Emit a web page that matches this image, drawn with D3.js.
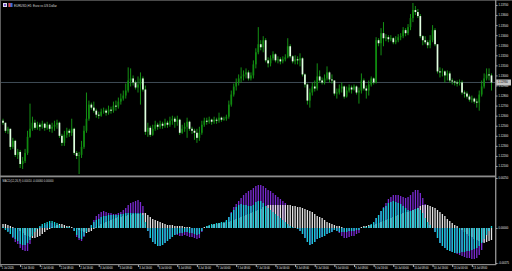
<!DOCTYPE html>
<html>
<head>
<meta charset="utf-8">
<script src="https://cdn.jsdelivr.net/npm/d3@7"></script>
<style>
  html, body { margin: 0; padding: 0; background: #000; overflow: hidden; }
  svg { display: block; }
</style>
</head>
<body>
<div id="chart"></div>
<script>
// EURUSD H1 candles, 200 bars
var opens = [
1.1255,1.1253,1.1245,1.1247,1.1229,1.1235,1.1221,1.1224,1.1212,1.1215,
1.1223,1.1239,1.1247,1.1253,1.1248,1.1251,1.1249,1.1252,1.1248,1.1251,
1.1247,1.1249,1.1251,1.1253,1.1240,1.1233,1.1241,1.1245,1.1243,1.1247,
1.1223,1.1220,1.1221,1.1229,1.1245,1.1257,1.1271,1.1268,1.1265,1.1261,
1.1260,1.1264,1.1265,1.1263,1.1266,1.1265,1.1270,1.1269,1.1274,1.1277,
1.1280,1.1285,1.1295,1.1297,1.1293,1.1288,1.1291,1.1297,1.1286,1.1244,
1.1248,1.1241,1.1247,1.1251,1.1249,1.1252,1.1250,1.1253,1.1251,1.1255,
1.1257,1.1254,1.1256,1.1243,1.1247,1.1249,1.1254,1.1247,1.1245,1.1243,
1.1238,1.1243,1.1251,1.1255,1.1254,1.1256,1.1254,1.1256,1.1255,1.1258,
1.1256,1.1257,1.1259,1.1271,1.1281,1.1289,1.1293,1.1297,1.1299,1.1301,
1.1303,1.1297,1.1300,1.1311,1.1323,1.1331,1.1328,1.1335,1.1315,1.1312,
1.1317,1.1321,1.1315,1.1316,1.1314,1.1316,1.1318,1.1329,1.1319,1.1314,
1.1316,1.1315,1.1317,1.1301,1.1291,1.1275,1.1283,1.1289,1.1287,1.1299,
1.1295,1.1293,1.1297,1.1303,1.1296,1.1295,1.1282,1.1283,1.1287,1.1289,
1.1279,1.1285,1.1288,1.1286,1.1289,1.1283,1.1285,1.1295,1.1287,1.1285,
1.1291,1.1297,1.1293,1.1335,1.1332,1.1342,1.1337,1.1338,1.1336,1.1337,
1.1333,1.1335,1.1338,1.1339,1.1345,1.1342,1.1348,1.1357,1.1365,1.1363,
1.1359,1.1339,1.1335,1.1333,1.1330,1.1335,1.1345,1.1331,1.1304,1.1303,
1.1304,1.1300,1.1302,1.1295,1.1294,1.1293,1.1292,1.1293,1.1283,1.1282,
1.1279,1.1276,1.1277,1.1274,1.1273,1.1281,1.1289,1.1297,1.1301,1.1300
];
var highs = [
1.1257,1.1253,1.1249,1.1247,1.1238,1.1236,1.1227,1.1226,1.1219,1.1227,
1.1245,1.1272,1.1259,1.1256,1.1254,1.1253,1.1255,1.1253,1.1254,1.1252,
1.1253,1.1255,1.1256,1.1254,1.1242,1.1245,1.1248,1.1247,1.1257,1.1248,
1.1225,1.1224,1.1235,1.1250,1.1283,1.1275,1.1273,1.1274,1.1267,1.1264,
1.1267,1.1268,1.1267,1.1270,1.1269,1.1274,1.1275,1.1278,1.1282,1.1285,
1.1292,1.1308,1.1307,1.1300,1.1295,1.1299,1.1303,1.1299,1.1290,1.1253,
1.1250,1.1251,1.1255,1.1253,1.1255,1.1254,1.1257,1.1255,1.1259,1.1260,
1.1259,1.1260,1.1257,1.1251,1.1253,1.1258,1.1255,1.1249,1.1247,1.1247,
1.1249,1.1255,1.1258,1.1258,1.1259,1.1257,1.1259,1.1258,1.1263,1.1259,
1.1259,1.1261,1.1275,1.1285,1.1292,1.1297,1.1301,1.1308,1.1305,1.1307,
1.1305,1.1303,1.1315,1.1327,1.1348,1.1335,1.1339,1.1337,1.1318,1.1320,
1.1324,1.1322,1.1319,1.1318,1.1319,1.1321,1.1337,1.1331,1.1320,1.1320,
1.1319,1.1322,1.1318,1.1302,1.1292,1.1287,1.1293,1.1295,1.1312,1.1305,
1.1298,1.1301,1.1309,1.1304,1.1301,1.1295,1.1287,1.1291,1.1293,1.1290,
1.1289,1.1291,1.1290,1.1291,1.1290,1.1288,1.1302,1.1297,1.1290,1.1295,
1.1299,1.1298,1.1338,1.1337,1.1347,1.1353,1.1341,1.1340,1.1340,1.1338,
1.1339,1.1341,1.1342,1.1348,1.1347,1.1351,1.1361,1.1372,1.1369,1.1366,
1.1361,1.1340,1.1339,1.1335,1.1340,1.1350,1.1347,1.1331,1.1308,1.1307,
1.1305,1.1305,1.1304,1.1297,1.1295,1.1295,1.1296,1.1295,1.1285,1.1284,
1.1281,1.1280,1.1278,1.1277,1.1285,1.1295,1.1302,1.1307,1.1307,1.1302
];
var lows = [
1.1251,1.1243,1.1242,1.1226,1.1227,1.1219,1.1217,1.1208,1.1207,1.1213,
1.1221,1.1238,1.1245,1.1246,1.1246,1.1245,1.1247,1.1245,1.1246,1.1244,
1.1243,1.1245,1.1247,1.1238,1.1230,1.1230,1.1238,1.1239,1.1240,1.1221,
1.1217,1.1202,1.1218,1.1227,1.1243,1.1255,1.1266,1.1263,1.1258,1.1257,
1.1259,1.1262,1.1260,1.1261,1.1262,1.1263,1.1265,1.1267,1.1271,1.1275,
1.1277,1.1283,1.1289,1.1290,1.1286,1.1283,1.1271,1.1284,1.1241,1.1239,
1.1239,1.1240,1.1245,1.1246,1.1247,1.1247,1.1248,1.1248,1.1249,1.1251,
1.1248,1.1250,1.1241,1.1242,1.1244,1.1238,1.1245,1.1242,1.1236,1.1233,
1.1235,1.1241,1.1249,1.1251,1.1252,1.1251,1.1252,1.1252,1.1253,1.1254,
1.1255,1.1255,1.1257,1.1269,1.1279,1.1285,1.1290,1.1293,1.1295,1.1297,
1.1295,1.1295,1.1297,1.1307,1.1321,1.1325,1.1323,1.1313,1.1308,1.1309,
1.1315,1.1313,1.1312,1.1311,1.1312,1.1314,1.1317,1.1317,1.1312,1.1311,
1.1311,1.1309,1.1299,1.1288,1.1271,1.1268,1.1280,1.1284,1.1285,1.1293,
1.1291,1.1291,1.1295,1.1293,1.1292,1.1280,1.1277,1.1281,1.1283,1.1277,
1.1278,1.1283,1.1282,1.1285,1.1281,1.1272,1.1282,1.1285,1.1277,1.1280,
1.1289,1.1291,1.1292,1.1329,1.1320,1.1329,1.1334,1.1333,1.1334,1.1331,
1.1331,1.1333,1.1335,1.1337,1.1339,1.1340,1.1345,1.1353,1.1360,1.1357,
1.1337,1.1330,1.1331,1.1327,1.1327,1.1333,1.1329,1.1302,1.1298,1.1299,
1.1293,1.1295,1.1293,1.1291,1.1290,1.1289,1.1290,1.1281,1.1278,1.1277,
1.1274,1.1273,1.1272,1.1268,1.1265,1.1279,1.1287,1.1295,1.1295,1.1285
];
var closes = [
1.1253,1.1245,1.1247,1.1229,1.1235,1.1221,1.1224,1.1212,1.1215,1.1223,
1.1239,1.1247,1.1253,1.1248,1.1251,1.1249,1.1252,1.1248,1.1251,1.1247,
1.1249,1.1251,1.1253,1.1240,1.1233,1.1241,1.1245,1.1243,1.1247,1.1223,
1.1220,1.1221,1.1229,1.1245,1.1257,1.1271,1.1268,1.1265,1.1261,1.1260,
1.1264,1.1265,1.1263,1.1266,1.1265,1.1270,1.1269,1.1274,1.1277,1.1280,
1.1285,1.1295,1.1297,1.1293,1.1288,1.1291,1.1297,1.1286,1.1244,1.1248,
1.1241,1.1247,1.1251,1.1249,1.1252,1.1250,1.1253,1.1251,1.1255,1.1257,
1.1254,1.1256,1.1243,1.1247,1.1249,1.1254,1.1247,1.1245,1.1243,1.1238,
1.1243,1.1251,1.1255,1.1254,1.1256,1.1254,1.1256,1.1255,1.1258,1.1256,
1.1257,1.1259,1.1271,1.1281,1.1289,1.1293,1.1297,1.1299,1.1301,1.1303,
1.1297,1.1300,1.1311,1.1323,1.1331,1.1328,1.1335,1.1315,1.1312,1.1317,
1.1321,1.1315,1.1316,1.1314,1.1316,1.1318,1.1329,1.1319,1.1314,1.1316,
1.1315,1.1317,1.1301,1.1291,1.1275,1.1283,1.1289,1.1287,1.1299,1.1295,
1.1293,1.1297,1.1303,1.1296,1.1295,1.1282,1.1283,1.1287,1.1289,1.1279,
1.1285,1.1288,1.1286,1.1289,1.1283,1.1285,1.1295,1.1287,1.1285,1.1291,
1.1297,1.1293,1.1335,1.1332,1.1342,1.1337,1.1338,1.1336,1.1337,1.1333,
1.1335,1.1338,1.1339,1.1345,1.1342,1.1348,1.1357,1.1365,1.1363,1.1359,
1.1339,1.1335,1.1333,1.1330,1.1335,1.1345,1.1331,1.1304,1.1303,1.1304,
1.1300,1.1302,1.1295,1.1294,1.1293,1.1292,1.1293,1.1283,1.1282,1.1279,
1.1276,1.1277,1.1274,1.1273,1.1281,1.1289,1.1297,1.1301,1.1300,1.1293
];

// indicator window, values in points (1 point = 0.00001)
var macdPts = [
5,-10,-20,-30,-45,-55,-65,-80,-85,-85,
-75,-60,-40,-20,-5,10,20,25,30,35,
35,30,25,15,5,0,5,5,0,-15,
-35,-50,-55,-40,-20,0,15,30,40,45,
55,60,60,65,65,65,65,65,70,70,
75,75,75,75,75,75,75,65,30,-15,
-50,-70,-80,-90,-90,-85,-75,-65,-55,-45,
-35,-30,-25,-25,-20,-20,-25,-25,-30,-35,
-30,-15,0,10,15,20,20,25,25,30,
30,40,55,75,90,105,115,120,115,115,
110,110,115,130,135,135,125,110,100,90,
80,70,60,50,40,30,20,10,5,0,
-5,-15,-30,-50,-70,-85,-80,-70,-55,-50,
-45,-40,-30,-25,-20,-10,-15,-20,-20,-20,
-20,-15,-15,-15,-10,-10,0,5,5,10,
20,30,50,65,85,100,110,125,130,135,
130,125,120,110,100,90,85,90,95,100,
90,75,50,30,15,0,-20,-50,-75,-90,
-100,-110,-115,-120,-125,-125,-125,-120,-120,-115,
-115,-110,-105,-100,-90,-75,-55,-35,-15,10
];
var signalPts = [
20,20,15,10,5,0,-5,-15,-25,-35,
-40,-45,-50,-50,-45,-40,-30,-20,-10,-5,
5,10,15,20,20,15,10,10,5,0,
-5,-10,-15,-20,-25,-20,-15,-5,5,10,
20,25,30,35,40,45,50,55,55,60,
60,65,65,70,70,70,70,75,75,65,
55,45,40,35,30,25,20,15,15,15,
10,10,10,10,5,5,5,0,0,0,
0,0,5,10,10,15,20,20,25,25,
25,30,30,35,40,45,50,55,60,65,
70,75,80,85,90,95,105,110,115,115,
115,115,115,115,115,115,115,115,110,110,
105,105,100,95,90,85,80,70,60,55,
50,40,30,25,20,15,10,10,5,0,
0,0,0,0,0,0,5,10,10,15,
15,15,20,25,30,35,40,45,50,55,
60,65,70,75,80,80,85,90,95,100,
110,115,115,115,110,105,100,90,80,70,
60,45,35,25,15,10,0,-10,-20,-30,
-40,-45,-55,-60,-65,-70,-75,-70,-65,-60
];
var trendPts = [
0,-5,-15,-30,-50,-70,-80,-100,-110,-115,
-115,-80,-30,-10,0,5,10,15,20,25,
25,20,15,10,0,0,0,0,0,-15,
-45,-60,-65,-45,-15,0,15,40,60,70,
80,85,80,75,75,70,70,75,80,90,
100,115,125,130,135,140,130,110,20,-15,
-50,-70,-80,-90,-90,-85,-75,-65,-55,-45,
-35,-35,-40,-40,-35,-40,-45,-45,-50,-55,
-50,-20,0,5,10,15,15,20,20,25,
25,35,55,80,105,120,135,150,165,175,
185,190,200,210,215,215,210,200,190,185,
175,165,155,145,135,125,20,10,5,0,
-5,-15,-30,-50,-70,-85,-80,-70,-55,-50,
-45,-40,-30,-25,-20,-10,-15,-25,-40,-50,
-50,-45,-40,-40,-30,-25,0,0,0,5,
15,25,50,65,85,105,125,145,155,165,
165,165,160,155,150,155,165,180,190,190,
175,150,120,30,15,0,-20,-50,-75,-90,
-100,-110,-115,-120,-125,-130,-135,-140,-145,-150,
-150,-155,-155,-150,-135,-110,-70,-40,-15,0
];

var priceTicks = [1.1210,1.1220,1.1230,1.1240,1.1250,1.1260,1.1270,1.1280,1.1290,
                  1.1300,1.1310,1.1320,1.1330,1.1340,1.1350,1.1360,1.1370];
var macdTicks = [-175, 0, 250];
var timeLabels = [
  '1 Jul 2020','1 Jul 16:00','2 Jul 00:00','2 Jul 08:00','2 Jul 16:00',
  '3 Jul 00:00','3 Jul 08:00','3 Jul 16:00','6 Jul 00:00','6 Jul 08:00',
  '6 Jul 16:00','7 Jul 00:00','7 Jul 08:00','7 Jul 16:00','8 Jul 00:00',
  '8 Jul 08:00','8 Jul 16:00','9 Jul 00:00','9 Jul 08:00','9 Jul 16:00',
  '10 Jul 00:00','10 Jul 08:00','10 Jul 16:00','13 Jul 00:00','13 Jul 08:00'
];
var timeLabelBars = [0,8,16,24,32,40,48,56,64,72,80,88,96,104,112,120,128,136,144,152,160,168,176,184,192];

var W = 512, H = 271;
var axisX = 495.5;
var font = 'Liberation Sans, Arial, sans-serif';

var svg = d3.select('#chart').append('svg')
    .attr('width', W)
    .attr('height', H)
    .style('background', '#000');

var x = d3.scaleLinear().domain([0, closes.length - 1]).range([3, 491.5]);
var yPrice = d3.scaleLinear().domain([1.1210, 1.1370]).range([166, 5]);
var yMacd = d3.scaleLinear().domain([-175, 250]).range([263, 178]);

// frame
svg.append('line').attr('x1', 0).attr('x2', W).attr('y1', 0.5).attr('y2', 0.5)
    .attr('stroke', '#4a4a4a');
svg.append('line').attr('x1', 0.5).attr('x2', 0.5).attr('y1', 0).attr('y2', 265)
    .attr('stroke', '#5c5c5c');

// last price line
var last = closes[closes.length - 1];
svg.append('line')
    .attr('x1', 1).attr('x2', axisX)
    .attr('y1', yPrice(last)).attr('y2', yPrice(last))
    .attr('stroke', '#3f4c56').attr('stroke-width', 1);

// candles
var candles = svg.append('g').selectAll('g').data(closes).join('g');
candles.append('line')
    .attr('x1', function (d, i) { return x(i); })
    .attr('x2', function (d, i) { return x(i); })
    .attr('y1', function (d, i) { return yPrice(highs[i]); })
    .attr('y2', function (d, i) { return yPrice(lows[i]); })
    .attr('stroke', '#16a016')
    .attr('stroke-width', 0.9);
candles.append('rect')
    .attr('x', function (d, i) { return x(i) - 0.85; })
    .attr('width', 1.7)
    .attr('y', function (d, i) { return yPrice(Math.max(opens[i], d)); })
    .attr('height', function (d, i) { return Math.max(0.8, Math.abs(yPrice(opens[i]) - yPrice(d))); })
    .attr('fill', function (d, i) { return d >= opens[i] ? '#108a10' : '#e2ffe2'; });

// price axis
var priceAxis = svg.append('g')
    .attr('transform', 'translate(' + axisX + ',0)')
    .call(d3.axisRight(yPrice).tickValues(priceTicks).tickSize(2).tickPadding(1)
        .tickFormat(d3.format('.5f')));
priceAxis.select('.domain').remove();
priceAxis.selectAll('line').attr('stroke', '#b0b0b0');
priceAxis.selectAll('text').attr('fill', '#e6e6e6').attr('font-size', 2.7).attr('font-family', font);

// last price box
var lastBox = svg.append('g').attr('transform', 'translate(496,' + yPrice(last) + ')');
lastBox.append('rect').attr('x', 0).attr('y', -3).attr('width', 15).attr('height', 6).attr('fill', '#c4c4c4');
lastBox.append('text').attr('x', 2).attr('y', 1).attr('font-size', 2.7).attr('font-family', font)
    .attr('fill', '#000').text(d3.format('.5f')(last));

// panel separator
svg.append('rect').attr('x', 0).attr('y', 175.5).attr('width', axisX).attr('height', 1.8).attr('fill', '#8c8c8c');

// indicator histograms: purple behind, white signal, cyan main on top
function bars(data, color) {
    svg.append('g').selectAll('rect').data(data).join('rect')
        .attr('x', function (d, i) { return x(i) - 0.65; })
        .attr('width', 1.3)
        .attr('y', function (d) { return Math.min(yMacd(0), yMacd(d)); })
        .attr('height', function (d) { return Math.abs(yMacd(d) - yMacd(0)); })
        .attr('fill', color);
}
bars(trendPts, '#7a2ad2');
bars(signalPts, '#e4e4e4');
bars(macdPts, '#12d2d6');

var macdAxis = svg.append('g')
    .attr('transform', 'translate(' + axisX + ',0)')
    .call(d3.axisRight(yMacd).tickValues(macdTicks).tickSize(2).tickPadding(1)
        .tickFormat(function (v) { return (v / 1e5).toFixed(5); }));
macdAxis.select('.domain').remove();
macdAxis.selectAll('line').attr('stroke', '#b0b0b0');
macdAxis.selectAll('text').attr('fill', '#e6e6e6').attr('font-size', 2.7).attr('font-family', font);

// right axis line and bottom line
svg.append('rect').attr('x', axisX - 0.5).attr('y', 0).attr('width', 1.4).attr('height', 265).attr('fill', '#8c8c8c');
svg.append('rect').attr('x', 0).attr('y', 264).attr('width', axisX + 0.5).attr('height', 1.2).attr('fill', '#8c8c8c');

// time axis
var timeAxis = svg.append('g')
    .attr('transform', 'translate(-2.5,265)')
    .call(d3.axisBottom(x).tickValues(timeLabelBars).tickSize(2).tickPadding(0.5)
        .tickFormat(function (d, k) { return timeLabels[k]; }));
timeAxis.select('.domain').remove();
timeAxis.selectAll('line').attr('stroke', '#b0b0b0');
timeAxis.selectAll('text')
    .attr('fill', '#e6e6e6').attr('font-size', 2.6).attr('font-family', font)
    .attr('text-anchor', 'start').attr('dx', 0.8).attr('dy', 1.6);

// window titles
svg.append('rect').attr('x', 3).attr('y', 3).attr('width', 4).attr('height', 4).attr('fill', '#d8d8ee');
svg.append('rect').attr('x', 4).attr('y', 4).attr('width', 2).attr('height', 2).attr('fill', '#7a5ad0');
svg.append('rect').attr('x', 8.5).attr('y', 3).attr('width', 4).attr('height', 4).attr('fill', '#3a6ad8');
svg.append('rect').attr('x', 8.5).attr('y', 3).attr('width', 2).attr('height', 4).attr('fill', '#e04848');
svg.append('text').attr('x', 14).attr('y', 6.6).attr('font-size', 3).attr('font-family', font)
    .attr('fill', '#dcdcdc').text('EURUSD,H1:  Euro vs US Dollar');
svg.append('text').attr('x', 2.5).attr('y', 181.5).attr('font-size', 2.7).attr('font-family', font)
    .attr('fill', '#dcdcdc')
    .text('MACD(12,26,9) ' + (macdPts[macdPts.length - 1] / 1e5).toFixed(5) + ' ' +
          (signalPts[signalPts.length - 1] / 1e5).toFixed(5) + ' ' +
          (trendPts[trendPts.length - 1] / 1e5).toFixed(5));
</script>
</body>
</html>
